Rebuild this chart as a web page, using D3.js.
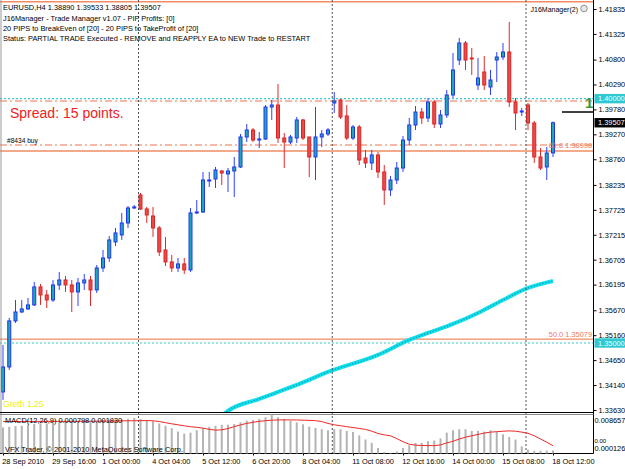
<!DOCTYPE html>
<html lang="en">
<head>
<meta charset="utf-8">
<title>EURUSD,H4</title>
<script src="https://d3js.org/d3.v7.min.js"></script>
<style>
body { margin: 0; background: #fff; }
svg text { font-family: "Liberation Sans", Arial, sans-serif; }
</style>
</head>
<body>
<script>
// EURUSD H4 candles, bar 0 = 28 Sep 2010 08:00, bar 88 = 18 Oct 12:00
var opens = [1.33999, 1.34510, 1.35452, 1.35635, 1.35697, 1.35779, 1.36147, 1.35983, 1.35881, 1.36188,
    1.36290, 1.36188, 1.36045, 1.36229, 1.36290, 1.36086, 1.36536, 1.36740, 1.37068, 1.37211,
    1.37456, 1.37763, 1.38029, 1.37743, 1.37599, 1.37354, 1.36904, 1.36659, 1.36536, 1.36618,
    1.36495, 1.37661, 1.37681, 1.38315, 1.38356, 1.38520, 1.38459, 1.38520, 1.38602, 1.39216,
    1.39359, 1.39154, 1.39175, 1.39829, 1.39870, 1.39195, 1.39113, 1.39195, 1.39564, 1.39216,
    1.38807, 1.39216, 1.39277, 1.39911, 1.39973, 1.39646, 1.39195, 1.39420, 1.38786, 1.38684,
    1.38848, 1.38500, 1.38132, 1.38336, 1.38581, 1.39154, 1.39461, 1.39727, 1.39605, 1.39932,
    1.39482, 1.39666, 1.40075, 1.40791, 1.41139, 1.40832, 1.40280, 1.40546, 1.40239, 1.40791,
    1.40853, 1.40955, 1.39932, 1.39727, 1.39870, 1.39502, 1.38807, 1.38602, 1.38890];
var highs = [1.34960, 1.35513, 1.35881, 1.35881, 1.35922, 1.36249, 1.36208, 1.36086, 1.36290, 1.36454,
    1.36372, 1.36290, 1.36331, 1.36413, 1.36372, 1.36597, 1.36904, 1.37190, 1.37354, 1.37661,
    1.37804, 1.37825, 1.38070, 1.37784, 1.37784, 1.37395, 1.37170, 1.36802, 1.36740, 1.36740,
    1.37763, 1.37927, 1.38500, 1.38500, 1.38602, 1.38541, 1.38581, 1.38807, 1.39277, 1.39482,
    1.39400, 1.39318, 1.39870, 1.39973, 1.40300, 1.39298, 1.39257, 1.39625, 1.39584, 1.39216,
    1.39829, 1.39359, 1.39400, 1.40137, 1.39993, 1.39870, 1.39461, 1.39461, 1.38950, 1.38950,
    1.38909, 1.38643, 1.38418, 1.38704, 1.39236, 1.39605, 1.39850, 1.39809, 1.40014, 1.39973,
    1.39768, 1.40178, 1.40935, 1.41242, 1.41180, 1.41037, 1.40832, 1.40873, 1.40587, 1.40955,
    1.41139, 1.41569, 1.40014, 1.39809, 1.39911, 1.39543, 1.38990, 1.39011, 1.39533];
var lows = [1.33835, 1.34449, 1.35411, 1.35615, 1.35676, 1.35758, 1.35779, 1.35717, 1.35840, 1.36086,
    1.36045, 1.35635, 1.35758, 1.36086, 1.35758, 1.36024, 1.36454, 1.36659, 1.36986, 1.37109,
    1.37354, 1.37743, 1.37722, 1.37456, 1.37170, 1.36781, 1.36577, 1.36454, 1.36454, 1.36413,
    1.36454, 1.37640, 1.37661, 1.38193, 1.38172, 1.38234, 1.38091, 1.37988, 1.38581, 1.39113,
    1.39113, 1.38990, 1.39154, 1.39564, 1.39093, 1.38581, 1.39072, 1.39093, 1.39154, 1.38397,
    1.38336, 1.39011, 1.39236, 1.39707, 1.39584, 1.39154, 1.39154, 1.38643, 1.38581, 1.38541,
    1.38377, 1.37825, 1.38009, 1.38254, 1.38500, 1.39052, 1.39359, 1.39482, 1.39523, 1.39400,
    1.39400, 1.39605, 1.40014, 1.40689, 1.40587, 1.40484, 1.40178, 1.40178, 1.40075, 1.40341,
    1.40791, 1.39829, 1.39359, 1.39646, 1.39359, 1.38684, 1.38541, 1.38336, 1.38805];
var closes = [1.34510, 1.35452, 1.35635, 1.35697, 1.35779, 1.36147, 1.35983, 1.35881, 1.36188, 1.36290,
    1.36188, 1.36045, 1.36229, 1.36290, 1.36086, 1.36536, 1.36740, 1.37109, 1.37252, 1.37456,
    1.37763, 1.37784, 1.37743, 1.37620, 1.37354, 1.36863, 1.36659, 1.36536, 1.36618, 1.36495,
    1.37661, 1.37681, 1.38336, 1.38336, 1.38541, 1.38479, 1.38520, 1.38602, 1.39216, 1.39359,
    1.39154, 1.39175, 1.39829, 1.39870, 1.39195, 1.39113, 1.39216, 1.39564, 1.39195, 1.38807,
    1.39216, 1.39277, 1.39359, 1.39952, 1.39625, 1.39195, 1.39420, 1.38745, 1.38684, 1.38848,
    1.38500, 1.38132, 1.38336, 1.38581, 1.39154, 1.39461, 1.39727, 1.39605, 1.39932, 1.39482,
    1.39666, 1.40075, 1.40587, 1.41139, 1.40791, 1.40812, 1.40423, 1.40280, 1.40382, 1.40853,
    1.40955, 1.39932, 1.39707, 1.39748, 1.39502, 1.38807, 1.38581, 1.38888, 1.39507];

// moving average, read at some bars
var maBars = [35, 36, 41, 47, 52, 60, 65, 68, 72, 76, 80, 84, 88];
var maValues = [1.33508, 1.33610, 1.33856, 1.34142, 1.34408, 1.34756, 1.35063, 1.35206, 1.35390,
    1.35615, 1.35881, 1.36127, 1.36270];

// MACD(12,26,9)
var macdMain = [0.00581, 0.00596, 0.00611, 0.00619, 0.00641, 0.00656, 0.00671, 0.00671, 0.00694, 0.00694,
    0.00709, 0.00709, 0.00716, 0.00716, 0.00731, 0.00731, 0.00746, 0.00754, 0.00754, 0.00761,
    0.00769, 0.00791, 0.00769, 0.00746, 0.00716, 0.00671, 0.00619, 0.00566, 0.00492, 0.00447,
    0.00469, 0.00521, 0.00566, 0.00596, 0.00619, 0.00641, 0.00641, 0.00656, 0.00694, 0.00731,
    0.00746, 0.00769, 0.00806, 0.008657, 0.00806, 0.00769, 0.00731, 0.00694, 0.00650, 0.00600,
    0.00570, 0.00544, 0.00521, 0.00544, 0.00544, 0.00507, 0.00484, 0.00409, 0.00319, 0.00245,
    0.00132, 0.00045, 0.000126, 0.00060, 0.00132, 0.00192, 0.00245, 0.00245, 0.00282, 0.00297,
    0.00342, 0.00469, 0.00521, 0.00544, 0.00544, 0.00507, 0.00507, 0.00492, 0.00521, 0.00492,
    0.00432, 0.00372, 0.00319, 0.00170, 0.00095, 0.00073, 0.00073, 0.00075, 0.000798];
var macdSignal = [0.00712, 0.00712, 0.00713, 0.00713, 0.00714, 0.00714, 0.00715, 0.00715, 0.00715, 0.00716,
    0.00716, 0.00716, 0.00717, 0.00717, 0.00718, 0.00719, 0.00720, 0.00722, 0.00724, 0.00726,
    0.00728, 0.00730, 0.00731, 0.00733, 0.00728, 0.00712, 0.00686, 0.00662, 0.00640, 0.00619,
    0.00598, 0.00585, 0.00568, 0.00540, 0.00524, 0.00530, 0.00560, 0.00600, 0.00640, 0.00671,
    0.00695, 0.00716, 0.00730, 0.00742, 0.00746, 0.00748, 0.00748, 0.00746, 0.00742, 0.00737,
    0.00731, 0.00710, 0.00670, 0.00640, 0.00620, 0.00600, 0.00580, 0.00560, 0.00540, 0.00500,
    0.00450, 0.00420, 0.00400, 0.00340, 0.00270, 0.00215, 0.00195, 0.00188, 0.00185, 0.00185,
    0.00200, 0.00245, 0.00280, 0.00330, 0.00370, 0.00400, 0.00430, 0.00460, 0.00480, 0.00490,
    0.00500, 0.00507, 0.00500, 0.00480, 0.00455, 0.00400, 0.00330, 0.00260, 0.00183];

var timeBars = [0, 8, 16, 24, 32, 40, 48, 56, 64, 72, 80, 88];
var timeLabels = ["28 Sep 2010", "29 Sep 16:00", "1 Oct 00:00", "4 Oct 04:00", "5 Oct 12:00", "6 Oct 20:00",
    "8 Oct 04:00", "11 Oct 08:00", "12 Oct 16:00", "14 Oct 00:00", "15 Oct 08:00", "18 Oct 12:00"];
var priceTicks = [1.41835, 1.41325, 1.40800, 1.40290, 1.39780, 1.39270, 1.38760, 1.38235, 1.37725,
    1.37215, 1.36705, 1.36195, 1.35670, 1.35160, 1.34650, 1.34140, 1.33630];
var weekBars = [22, 53, 84];

var fibPrices = [1.41984, 1.38930, 1.35079];
var fibLabels = ["", "61.8 1.38998", "50.0 1.35079"];
var orderPrices = [1.39952, 1.39052];
var alertPrices = [1.40000, 1.35000];
var askPrice = 1.39727;

var w = 625;
var h = 469;
var axisX = 593.5;
var mainBottom = 412.5;
var subTop = 414.5;
var subBottom = 453.5;

var svg = d3.select("body")
    .append("svg")
    .attr("width", w)
    .attr("height", h);

svg.append("rect").attr("width", w).attr("height", h).attr("fill", "#fff");

var x = d3.scaleLinear().domain([0, 88]).range([3, 553]);
var y = d3.scaleLinear().domain([1.33578, 1.41978]).range([mainBottom, 2]);
var ym = d3.scaleLinear().domain([0.000126, 0.008657]).range([subBottom, subTop]);

svg.append("clipPath").attr("id", "mainclip")
    .append("rect").attr("x", 0).attr("y", 0).attr("width", axisX).attr("height", mainBottom);

var main = svg.append("g").attr("clip-path", "url(#mainclip)");

// horizontal objects
main.selectAll("line.fib")
    .data(fibPrices)
    .enter()
    .append("line")
    .attr("x1", 0).attr("x2", axisX)
    .attr("y1", function(d) { return y(d); })
    .attr("y2", function(d) { return y(d); })
    .attr("stroke", "#f28c64")
    .attr("stroke-width", 1.4);

main.selectAll("line.order")
    .data(orderPrices)
    .enter()
    .append("line")
    .attr("x1", 0).attr("x2", axisX)
    .attr("y1", function(d) { return y(d); })
    .attr("y2", function(d) { return y(d); })
    .attr("stroke", "#ee7450")
    .attr("stroke-width", 1.2)
    .attr("stroke-dasharray", "7,3,2,3");

main.selectAll("line.alert")
    .data(alertPrices)
    .enter()
    .append("line")
    .attr("x1", 0).attr("x2", axisX)
    .attr("y1", function(d) { return y(d); })
    .attr("y2", function(d) { return y(d); })
    .attr("stroke", "#38c8d8")
    .attr("stroke-width", 1.2)
    .attr("stroke-dasharray", "2,2");

// week separators
svg.selectAll("line.sep")
    .data(weekBars)
    .enter()
    .append("line")
    .attr("x1", function(d) { return x(d) - 2; })
    .attr("x2", function(d) { return x(d) - 2; })
    .attr("y1", 0).attr("y2", subBottom)
    .attr("stroke", "#505050")
    .attr("stroke-dasharray", "2,2");

// moving average
var maLine = d3.line()
    .x(function(d, i) { return x(maBars[i]); })
    .y(function(d) { return y(d); })
    .curve(d3.curveMonotoneX);

main.append("path")
    .attr("d", maLine(maValues))
    .attr("fill", "none")
    .attr("stroke", "#10e0ec")
    .attr("stroke-width", 4);

main.append("path")
    .attr("d", maLine(maValues))
    .attr("fill", "none")
    .attr("stroke", "#1a8fa8")
    .attr("stroke-width", 1.3)
    .attr("stroke-dasharray", "1,2");

// candles
var idx = d3.range(opens.length);
function isUp(i) { return closes[i] >= opens[i]; }

main.selectAll("line.wick")
    .data(idx)
    .enter()
    .append("line")
    .attr("x1", function(i) { return x(i); })
    .attr("x2", function(i) { return x(i); })
    .attr("y1", function(i) { return y(highs[i]); })
    .attr("y2", function(i) { return y(lows[i]); })
    .attr("stroke", function(i) { return isUp(i) ? "#3040ff" : "#e02a2a"; })
    .attr("stroke-width", 1);

main.selectAll("rect.body")
    .data(idx)
    .enter()
    .append("rect")
    .attr("x", function(i) { return x(i) - 1.5; })
    .attr("y", function(i) { return y(Math.max(opens[i], closes[i])); })
    .attr("width", 3)
    .attr("height", function(i) {
        return Math.max(0.6, Math.abs(y(opens[i]) - y(closes[i])));
    })
    .attr("fill", function(i) { return isUp(i) ? "#1fa8b4" : "#ea4a4a"; })
    .attr("stroke", function(i) { return isUp(i) ? "#2236f0" : "#dc2424"; })
    .attr("stroke-width", 1);

// texts on the chart
var small = "7.4px";

svg.append("text").attr("x", 3).attr("y", 10).attr("font-size", small)
    .text("EURUSD,H4  1.38890 1.39533 1.38805 1.39507");
svg.append("text").attr("x", 3).attr("y", 20.5).attr("font-size", small)
    .text("J16Manager - Trade Manager v1.07 - PIP Profits: [0]");
svg.append("text").attr("x", 3).attr("y", 30.8).attr("font-size", small)
    .text("20 PIPS to BreakEven of [20] - 20 PIPS to TakeProfit of [20]");
svg.append("text").attr("x", 3).attr("y", 41).attr("font-size", small)
    .text("Status: PARTIAL TRADE Executed - REMOVE and REAPPLY EA to NEW Trade to RESTART");

svg.append("text").attr("x", 578).attr("y", 11.5).attr("font-size", "7px")
    .attr("text-anchor", "end")
    .text("J16Manager(2)");
svg.append("circle").attr("cx", 584).attr("cy", 8.5).attr("r", 3.3)
    .attr("fill", "#e8e8e8").attr("stroke", "#777").attr("stroke-width", 0.8);

svg.append("text").attr("x", 10).attr("y", 118.3)
    .attr("font-size", "14px").attr("fill", "#f02020")
    .text("Spread: 15 points.");

svg.append("text").attr("x", 7).attr("y", 143).attr("font-size", "6.6px")
    .text("#8434 buy");

svg.append("text").attr("x", 3).attr("y", 407).attr("font-size", "8.6px")
    .attr("fill", "#f0f000")
    .text("Greth 1.25");

svg.selectAll("text.fib")
    .data(fibPrices)
    .enter()
    .append("text")
    .attr("x", 592)
    .attr("y", function(d) { return y(d) - 2.5; })
    .attr("text-anchor", "end")
    .attr("font-size", small)
    .attr("fill", "#f07a58")
    .text(function(d, i) { return fibLabels[i]; });

// ask marker and the green "1"
svg.append("line")
    .attr("x1", 562).attr("x2", axisX)
    .attr("y1", y(askPrice)).attr("y2", y(askPrice))
    .attr("stroke", "#111").attr("stroke-width", 1.6);
svg.append("text").attr("x", 585).attr("y", 107.5)
    .attr("font-size", "15px").attr("font-weight", "bold").attr("fill", "#3a9a3a")
    .text("1");

// frame lines
svg.append("line").attr("x1", 1).attr("x2", 1).attr("y1", 0).attr("y2", subBottom)
    .attr("stroke", "#999");
svg.append("line").attr("x1", axisX).attr("x2", axisX).attr("y1", 0).attr("y2", subBottom)
    .attr("stroke", "#000");
svg.append("line").attr("x1", 0).attr("x2", axisX).attr("y1", mainBottom).attr("y2", mainBottom)
    .attr("stroke", "#000");
svg.append("line").attr("x1", 0).attr("x2", axisX).attr("y1", subTop).attr("y2", subTop)
    .attr("stroke", "#888");
svg.append("line").attr("x1", 0).attr("x2", axisX).attr("y1", subBottom).attr("y2", subBottom)
    .attr("stroke", "#000");

// price axis
var yAxis = d3.axisRight(y)
    .tickValues(priceTicks)
    .tickFormat(d3.format(".5f"))
    .tickSize(3)
    .tickPadding(2);

var ga = svg.append("g")
    .attr("transform", "translate(" + axisX + ",0)")
    .call(yAxis);
ga.select(".domain").remove();
ga.selectAll("text").attr("font-size", small).attr("font-family", "Liberation Sans, Arial, sans-serif");

// price boxes on the axis
function priceBox(p, bg, fg) {
    svg.append("rect")
        .attr("x", axisX + 1).attr("y", y(p) - 4.7)
        .attr("width", w - axisX).attr("height", 9.4)
        .attr("fill", bg);
    svg.append("text")
        .attr("x", axisX + 4.5).attr("y", y(p) + 2.6)
        .attr("font-size", small).attr("fill", fg)
        .text(d3.format(".5f")(p));
}
priceBox(alertPrices[0], "#30c8d0", "#e8ffff");
priceBox(alertPrices[1], "#30c8d0", "#e8ffff");
priceBox(closes[closes.length - 1], "#000", "#fff");

// MACD window
svg.selectAll("rect.macd")
    .data(macdMain)
    .enter()
    .append("rect")
    .attr("x", function(d, i) { return x(i) - 1; })
    .attr("y", function(d) { return ym(d); })
    .attr("width", 2)
    .attr("height", function(d) { return Math.max(0.5, subBottom - ym(d)); })
    .attr("fill", "#b4b4b4");

var sigLine = d3.line()
    .x(function(d, i) { return x(i); })
    .y(function(d) { return ym(d); });

svg.append("path")
    .attr("d", sigLine(macdSignal))
    .attr("fill", "none")
    .attr("stroke", "#f02828")
    .attr("stroke-width", 1);

svg.append("text").attr("x", 5).attr("y", 423).attr("font-size", small)
    .text("MACD(12,26,9) 0.000798 0.001830");
svg.append("text").attr("x", 5).attr("y", 451.5).attr("font-size", small)
    .text("VFX Trader, \u00a9 2001-2010 MetaQuotes Software Corp.");

svg.append("text").attr("x", axisX + 1).attr("y", 422.5).attr("font-size", small)
    .text(d3.format(".6f")(ym.domain()[1]));
svg.append("text").attr("x", axisX + 1).attr("y", 451).attr("font-size", small)
    .text(d3.format(".6f")(ym.domain()[0]));
svg.append("text").attr("x", axisX + 1).attr("y", 442.5).attr("font-size", "6px")
    .text("0.00");

// time axis
var xAxis = d3.axisBottom(x)
    .tickValues(timeBars)
    .tickFormat(function(d, i) { return timeLabels[i]; })
    .tickSize(2)
    .tickPadding(3);

var gt = svg.append("g")
    .attr("transform", "translate(0," + subBottom + ")")
    .call(xAxis);
gt.select(".domain").remove();
gt.selectAll("text")
    .attr("text-anchor", "start")
    .attr("x", -1.3)
    .attr("font-size", small)
    .attr("font-family", "Liberation Sans, Arial, sans-serif");
</script>
</body>
</html>
